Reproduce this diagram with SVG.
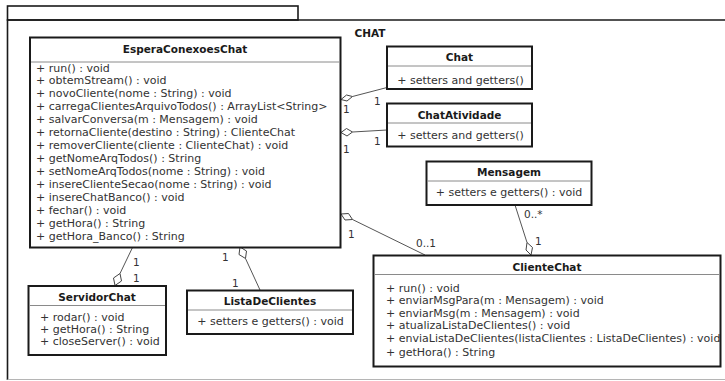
<svg xmlns="http://www.w3.org/2000/svg" width="725" height="381" viewBox="0 0 725 381">
  <style>
    .box { fill: #ffffff; stroke: #1a1a1a; stroke-width: 2; }
    .sep { stroke: #8a8a8a; stroke-width: 1; }
    .title { font-family: "DejaVu Sans", sans-serif; font-size: 10.5px; font-weight: bold; fill: #1a1a1a; text-anchor: middle; }
    .op { font-family: "DejaVu Sans", sans-serif; font-size: 11px; fill: #333333; }
    .mid { text-anchor: middle; }
    .edge { fill: none; stroke: #555555; stroke-width: 1; }
    .agg { fill: #ffffff; stroke: #444444; stroke-width: 1; }
    .mult { font-family: "DejaVu Sans", sans-serif; font-size: 10.5px; fill: #333333; }
  </style>

  <rect width="725" height="381" fill="#ffffff"/>

  <!-- package CHAT -->
  <g id="package-chat">
    <rect x="7.5" y="6" width="290.5" height="14" fill="#ffffff" stroke="#1a1a1a" stroke-width="1.6"/>
    <path d="M725 20 H7.5 V380" fill="none" stroke="#1a1a1a" stroke-width="1.6"/>
    <path d="M7.5 379.5 H725" fill="none" stroke="#b5b5b5" stroke-width="1.2"/>
    <text x="370" y="36.5" class="title">CHAT</text>
  </g>

  <!-- associations / aggregations -->
  <g id="connectors">
    <!-- EsperaConexoesChat - Chat -->
    <path class="edge" d="M352.5 96.5 L387 87.5"/>
    <path class="agg" d="M341 99.5 L346.5 95 L352.5 96.5 L347 101 Z"/>
    <text class="mult" x="343" y="113">1</text>
    <text class="mult" x="374" y="105">1</text>

    <!-- EsperaConexoesChat - ChatAtividade -->
    <path class="edge" d="M352.5 132 L387 130"/>
    <path class="agg" d="M341 132.5 L346.5 128.5 L352.5 132 L347 136 Z"/>
    <text class="mult" x="343" y="153">1</text>
    <text class="mult" x="374" y="145">1</text>

    <!-- EsperaConexoesChat - ClienteChat -->
    <path class="edge" d="M352.5 219.5 L425 255"/>
    <path class="agg" d="M341 214 L348.5 213.5 L352.5 219.5 L345 220 Z"/>
    <text class="mult" x="348" y="237.5">1</text>
    <text class="mult" x="416" y="247">0..1</text>

    <!-- Mensagem - ClienteChat -->
    <path class="edge" d="M515 205 L527 242.5"/>
    <path class="agg" d="M531 255 L526 250 L527 242.5 L532.5 247.5 Z"/>
    <text class="mult" x="524" y="218">0..*</text>
    <text class="mult" x="535" y="245">1</text>

    <!-- EsperaConexoesChat - ServidorChat -->
    <path class="edge" d="M132.5 247.5 L120 273.5"/>
    <path class="agg" d="M115 285.5 L113.5 278 L120 273.5 L121.5 281 Z"/>
    <text class="mult" x="133" y="266">1</text>
    <text class="mult" x="133" y="281.5">1</text>

    <!-- EsperaConexoesChat - ListaDeClientes -->
    <path class="edge" d="M245.5 258.5 L260 290"/>
    <path class="agg" d="M240 247 L246.5 251 L245.5 258.5 L239 254.5 Z"/>
    <text class="mult" x="222" y="260.5">1</text>
    <text class="mult" x="232" y="286.5">1</text>
  </g>

  <!-- EsperaConexoesChat -->
  <g id="EsperaConexoesChat">
    <rect class="box" x="30" y="37.5" width="310.5" height="210"/>
    <line class="sep" x1="31" y1="62" x2="339.5" y2="62"/>
    <text class="title" x="185" y="53">EsperaConexoesChat</text>
    <text class="op" x="36" y="71.5">+ run() : void</text>
    <text class="op" x="36" y="84.4">+ obtemStream() : void</text>
    <text class="op" x="36" y="97.3">+ novoCliente(nome : String) : void</text>
    <text class="op" x="36" y="110.3">+ carregaClientesArquivoTodos() : ArrayList&lt;String&gt;</text>
    <text class="op" x="36" y="123.2">+ salvarConversa(m : Mensagem) : void</text>
    <text class="op" x="36" y="136.1">+ retornaCliente(destino : String) : ClienteChat</text>
    <text class="op" x="36" y="149">+ removerCliente(cliente : ClienteChat) : void</text>
    <text class="op" x="36" y="161.9">+ getNomeArqTodos() : String</text>
    <text class="op" x="36" y="174.9">+ setNomeArqTodos(nome : String) : void</text>
    <text class="op" x="36" y="187.8">+ insereClienteSecao(nome : String) : void</text>
    <text class="op" x="36" y="200.7">+ insereChatBanco() : void</text>
    <text class="op" x="36" y="213.6">+ fechar() : void</text>
    <text class="op" x="36" y="226.5">+ getHora() : String</text>
    <text class="op" x="36" y="239.5">+ getHora_Banco() : String</text>
  </g>

  <!-- Chat -->
  <g id="Chat">
    <rect class="box" x="387" y="46.5" width="145" height="42.5"/>
    <line class="sep" x1="388" y1="66" x2="531" y2="66"/>
    <text class="title" x="459.5" y="61">Chat</text>
    <text class="op mid" x="460.5" y="84">+ setters and getters()</text>
  </g>

  <!-- ChatAtividade -->
  <g id="ChatAtividade">
    <rect class="box" x="387" y="103.5" width="145" height="43"/>
    <line class="sep" x1="388" y1="123" x2="531" y2="123"/>
    <text class="title" x="459.5" y="119">ChatAtividade</text>
    <text class="op mid" x="460.5" y="139">+ setters and getters()</text>
  </g>

  <!-- Mensagem -->
  <g id="Mensagem">
    <rect class="box" x="426.5" y="161.5" width="165" height="43.5"/>
    <line class="sep" x1="427.5" y1="181" x2="590.5" y2="181"/>
    <text class="title" x="509" y="176">Mensagem</text>
    <text class="op mid" x="509" y="195.5">+ setters e getters() : void</text>
  </g>

  <!-- ClienteChat -->
  <g id="ClienteChat">
    <rect class="box" x="373.5" y="255.5" width="347" height="111"/>
    <line class="sep" x1="374.5" y1="274.5" x2="719.5" y2="274.5"/>
    <text class="title" x="547" y="270.5">ClienteChat</text>
    <text class="op" x="386" y="291.5">+ run() : void</text>
    <text class="op" x="386" y="304">+ enviarMsgPara(m : Mensagem) : void</text>
    <text class="op" x="386" y="316.5">+ enviarMsg(m : Mensagem) : void</text>
    <text class="op" x="386" y="329">+ atualizaListaDeClientes() : void</text>
    <text class="op" x="386" y="342">+ enviaListaDeClientes(listaClientes : ListaDeClientes) : void</text>
    <text class="op" x="386" y="355.5">+ getHora() : String</text>
  </g>

  <!-- ServidorChat -->
  <g id="ServidorChat">
    <rect class="box" x="28.5" y="286" width="137.5" height="69"/>
    <line class="sep" x1="29.5" y1="305.5" x2="165" y2="305.5"/>
    <text class="title" x="97" y="300.5">ServidorChat</text>
    <text class="op" x="40" y="320.7">+ rodar() : void</text>
    <text class="op" x="40" y="332.7">+ getHora() : String</text>
    <text class="op" x="40" y="344.7">+ closeServer() : void</text>
  </g>

  <!-- ListaDeClientes -->
  <g id="ListaDeClientes">
    <rect class="box" x="187" y="290.5" width="166" height="43.5"/>
    <line class="sep" x1="188" y1="310" x2="352" y2="310"/>
    <text class="title" x="270" y="305">ListaDeClientes</text>
    <text class="op mid" x="270.5" y="324.5">+ setters e getters() : void</text>
  </g>
</svg>
